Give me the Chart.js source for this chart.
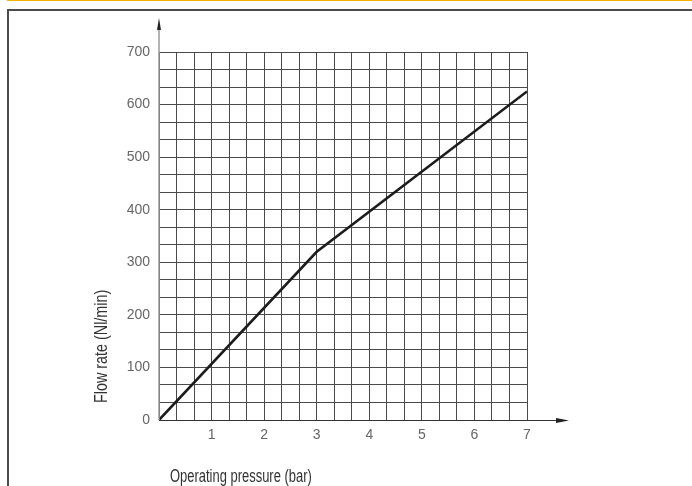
<!DOCTYPE html>
<html>
<head>
<meta charset="utf-8">
<script src="https://cdn.jsdelivr.net/npm/chart.js@4/dist/chart.umd.min.js"></script>
<style>
  html, body { margin: 0; padding: 0; background: #fff; }
  #wrap { position: relative; width: 692px; height: 486px; overflow: hidden; }
  #topbar { position: absolute; left: 7px; top: 0; width: 700px; height: 1px; background: #f5b400; }
  #frame { position: absolute; left: 7px; top: 9px; width: 700px; height: 500px;
           border-top: 2px solid #4a4a4a; border-left: 2px solid #4a4a4a; box-sizing: border-box; }
  #chart { position: absolute; left: 0; top: 0; }
</style>
</head>
<body>
<div id="wrap">
  <div id="topbar"></div>
  <div id="frame"></div>
  <canvas id="chart" width="692" height="486"></canvas>
</div>
<script>
// values
const pressure = [0, 3, 7];          // bar
const flowRate = [0, 320, 625];      // Nl/min
const xTickLabels = ['1', '2', '3', '4', '5', '6', '7'];
const yTickLabels = ['0', '100', '200', '300', '400', '500', '600', '700'];
const xTitle = 'Operating pressure (bar)';
const yTitle = 'Flow rate (Nl/min)';
const gridDivisions = 3; // grid cells per labelled step

const sans = "'Liberation Sans', Arial, sans-serif";

// ticks every 1/3 step so the grid comes out square
function subTicks(max, step) {
  const out = [];
  const n = max / step * gridDivisions;
  for (let i = 0; i <= n; i++) out.push({ value: i * step / gridDivisions });
  return out;
}

// condensed text, no narrow font installed
function narrowText(ctx, text, x, y, angle, squeeze) {
  ctx.save();
  ctx.translate(x, y);
  ctx.rotate(angle);
  ctx.scale(squeeze, 1);
  ctx.fillText(text, 0, 0);
  ctx.restore();
}

// axis arrows and titles
const decoPlugin = {
  id: 'deco',
  afterDraw(chart) {
    const { ctx, chartArea: a } = chart;
    ctx.save();
    // y axis with arrow
    ctx.strokeStyle = '#9a9a9a';
    ctx.lineWidth = 1.5;
    ctx.beginPath();
    ctx.moveTo(a.left, a.bottom);
    ctx.lineTo(a.left, a.top - 24);
    ctx.stroke();
    ctx.fillStyle = '#222';
    ctx.beginPath();
    ctx.moveTo(a.left, a.top - 34);
    ctx.lineTo(a.left - 2, a.top - 22);
    ctx.lineTo(a.left + 2, a.top - 22);
    ctx.closePath();
    ctx.fill();
    // x axis with arrow
    ctx.strokeStyle = '#333';
    ctx.lineWidth = 1;
    ctx.beginPath();
    ctx.moveTo(a.left, a.bottom + 0.5);
    ctx.lineTo(a.right + 32, a.bottom + 0.5);
    ctx.stroke();
    ctx.fillStyle = '#222';
    ctx.beginPath();
    ctx.moveTo(a.right + 42, a.bottom + 0.5);
    ctx.lineTo(a.right + 29, a.bottom - 2);
    ctx.lineTo(a.right + 29, a.bottom + 3);
    ctx.closePath();
    ctx.fill();
    // titles
    ctx.fillStyle = '#333';
    ctx.textAlign = 'left';
    ctx.textBaseline = 'alphabetic';
    ctx.font = '17.5px ' + sans;
    narrowText(ctx, xTitle, a.left + 11, a.bottom + 62, 0, 0.74);
    narrowText(ctx, yTitle, a.left - 52, a.bottom - 17, -Math.PI / 2, 0.82);
    ctx.restore();
  }
};

new Chart(document.getElementById('chart'), {
  type: 'line',
  data: {
    datasets: [{
      data: pressure.map((p, i) => ({ x: p, y: flowRate[i] })),
      borderColor: '#1c1c1c',
      borderWidth: 2.6,
      pointRadius: 0,
      tension: 0,
      fill: false
    }]
  },
  options: {
    responsive: false,
    animation: false,
    layout: { padding: { left: 0, top: 52, right: 165, bottom: 0 } },
    plugins: { legend: { display: false }, tooltip: { enabled: false } },
    scales: {
      x: {
        type: 'linear',
        min: 0,
        max: 7,
        afterBuildTicks: s => { s.ticks = subTicks(7, 1); },
        afterFit: s => { s.height = 66; },
        border: { display: false },
        grid: { color: '#4a4a4a', lineWidth: 1, drawTicks: false },
        ticks: {
          autoSkip: false,
          maxRotation: 0,
          padding: 7,
          color: '#666',
          font: { family: sans, size: 14 },
          callback: (v, i) => (i % gridDivisions === 0 && i > 0) ? xTickLabels[i / gridDivisions - 1] : ''
        }
      },
      y: {
        type: 'linear',
        min: 0,
        max: 700,
        afterBuildTicks: s => { s.ticks = subTicks(700, 100); },
        afterFit: s => { s.width = 159; },
        border: { display: false },
        grid: { color: '#4a4a4a', lineWidth: 1, drawTicks: false },
        ticks: {
          autoSkip: false,
          padding: 9,
          color: '#666',
          font: { family: sans, size: 14 },
          callback: (v, i) => (i % gridDivisions === 0) ? yTickLabels[i / gridDivisions] : ''
        }
      }
    }
  },
  plugins: [decoPlugin]
});
</script>
</body>
</html>
